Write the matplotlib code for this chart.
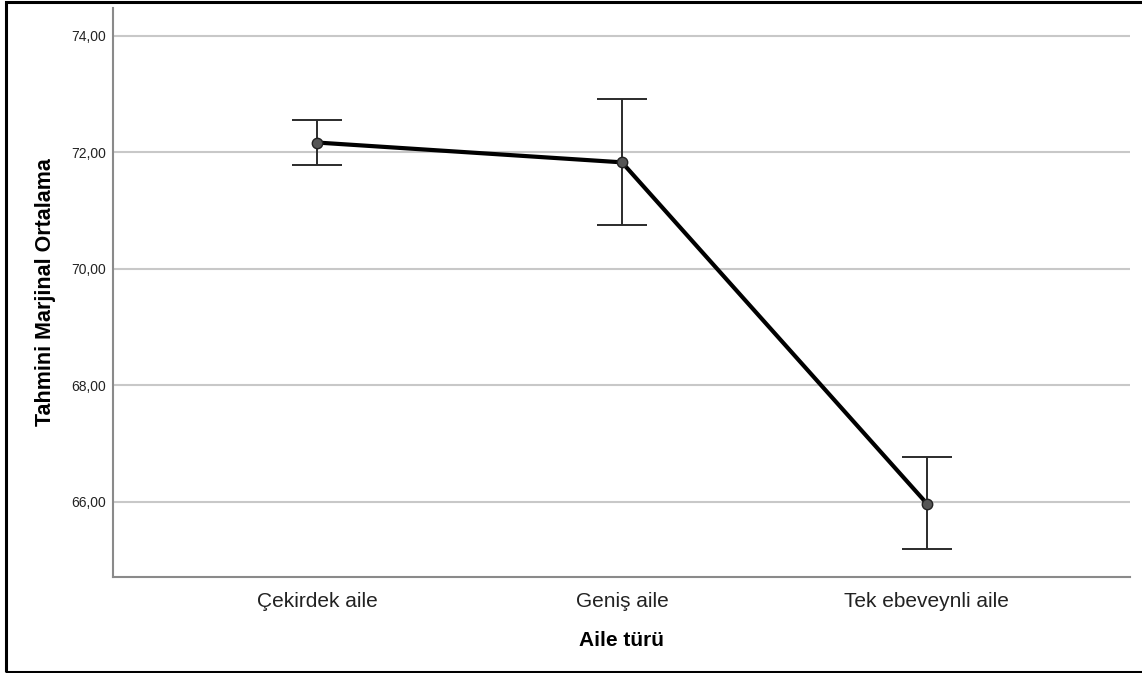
import matplotlib
matplotlib.use("Agg")
import matplotlib.pyplot as plt
from matplotlib.patches import Rectangle

categories = ["Çekirdek aile", "Geniş aile", "Tek ebeveynli aile"]
means = [72.17, 71.83, 65.97]
ci_upper = [72.55, 72.92, 66.77]
ci_lower = [71.79, 70.75, 65.19]
yticks = [66, 68, 70, 72, 74]
ytick_labels = ["66,00", "68,00", "70,00", "72,00", "74,00"]

plt.rcParams['font.family'] = ['Liberation Sans', 'DejaVu Sans']

fig = plt.figure(figsize=(11.42, 6.73), dpi=100)
ax = fig.add_axes([113/1142, (673-577)/673, (1130-113)/1142, (577-8)/673])

x = list(range(len(categories)))
yerr = [[m - lo for m, lo in zip(means, ci_lower)], [hi - m for m, hi in zip(means, ci_upper)]]
ax.errorbar(x, means, yerr=yerr, fmt='none', ecolor='#2b2b2b', elinewidth=1.4,
            capsize=18, capthick=1.4, zorder=3)
ax.plot(x, means, color='black', linewidth=3.0, zorder=4, solid_capstyle='round')
ax.plot(x, means, linestyle='none', marker='o', markersize=7.5, markerfacecolor='#555555',
        markeredgecolor='#222222', markeredgewidth=1.0, zorder=5)

ax.set_xlim(-0.669, 2.666)
ax.set_ylim(64.71, 74.48)
ax.set_yticks(yticks)
ax.set_yticklabels(ytick_labels, fontsize=10, color='#222222')
ax.set_xticks(x)
ax.set_xticklabels(categories, fontsize=15, color='#222222')
ax.tick_params(axis='both', length=0)
ax.tick_params(axis='y', pad=5)
ax.tick_params(axis='x', pad=11)
ax.grid(axis='y', color='#c8c8c8', linewidth=1.5)
ax.set_axisbelow(True)
for s in ['top', 'right']:
    ax.spines[s].set_visible(False)
for s in ['left', 'bottom']:
    ax.spines[s].set_color('#8a8a8a')
    ax.spines[s].set_linewidth(1.5)

ax.set_xlabel("Aile türü", fontsize=15, fontweight='bold', labelpad=14)
ax.set_ylabel("Tahmini Marjinal Ortalama", fontsize=15.5, fontweight='bold', labelpad=11)

fig.patches.append(Rectangle((6/1142, 1.5/673), 1.2, (673-3.5)/673, transform=fig.transFigure,
                             fill=False, edgecolor='black', linewidth=2.2))

fig.savefig("out.png", dpi=100)
